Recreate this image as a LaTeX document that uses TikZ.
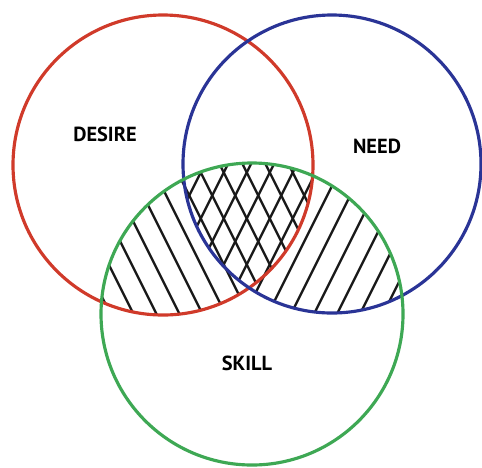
\documentclass[tikz,border=0pt]{standalone}
\usepackage{fontspec}
\setmainfont{PT Sans}
\definecolor{desirered}{RGB}{208,58,42}
\definecolor{needblue}{RGB}{42,52,150}
\definecolor{skillgreen}{RGB}{62,168,84}

\begin{document}
\begin{tikzpicture}[x=0.02cm,y=-0.02cm,
  ring/.style={line width=1.8pt},
  hatch/.style={line width=1.35pt,black!90},
  tag/.style={font=\bfseries\fontsize{11.6}{13}\selectfont}]
\useasboundingbox (0,0) rectangle (482,467);
% ---------- hatching: skill & desire (\), skill & need (/) ----------
\begin{scope}
  \clip (252,314) circle [radius=151];
  \clip (163,165) circle [radius=150];
  \foreach \k in {-12,...,3}{
    \pgfmathsetmacro{\cc}{47+\k*46}
    \draw[hatch] (0,\cc) -- (500,\cc+1000);}
\end{scope}
\begin{scope}
  \clip (252,314) circle [radius=151];
  \clip (332,164) circle [radius=149];
  \foreach \k in {-8,...,7}{
    \pgfmathsetmacro{\cc}{850+\k*46}
    \draw[hatch] (0,\cc) -- (500,\cc-1000);}
\end{scope}
% ---------- the three rings ----------
\draw[ring,desirered] (163,165) circle [radius=150];
\draw[ring,needblue] (332,164) circle [radius=149];
\draw[ring,skillgreen] (252,314) circle [radius=151];
% ---------- labels ----------
\node[tag] (desire) at (105,134) {DESIRE};
\node[tag] (need) at (377,146) {NEED};
\node[tag] (skill) at (247,363) {SKILL};
\end{tikzpicture}
\end{document}
